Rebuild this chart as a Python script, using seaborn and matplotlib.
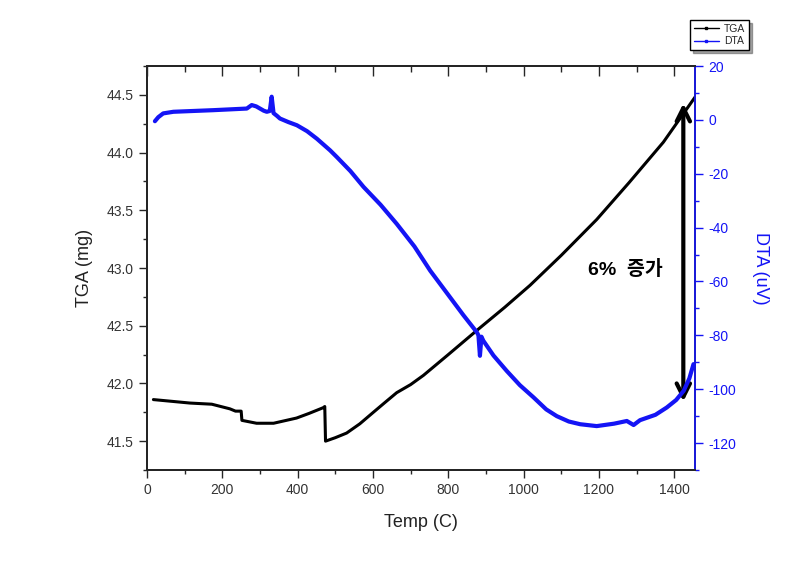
import numpy as np
import pandas as pd
import seaborn as sns
import matplotlib.pyplot as plt
from matplotlib.lines import Line2D
from matplotlib.ticker import MultipleLocator

# TGA curve (left axis, mg)
temp_tga = [17, 114, 172, 220, 235, 250, 252, 291, 336, 397, 430, 468, 472, 474, 500, 530, 565, 601, 630, 663,
            700, 734, 800, 876, 950, 1017, 1100, 1194, 1280, 1371, 1455]
tga = [41.86, 41.83, 41.82, 41.78, 41.76, 41.76, 41.68, 41.655, 41.655, 41.70, 41.74, 41.79, 41.80, 41.50,
       41.53, 41.57, 41.65, 41.75, 41.83, 41.92, 41.99, 42.07, 42.25, 42.46, 42.66, 42.85, 43.11, 43.42,
       43.74, 44.09, 44.48]

# DTA curve (right axis, uV)
temp_dta = [21, 30, 43, 70, 105, 176, 265, 278, 290, 310, 318, 326, 331, 336, 345, 353, 375, 398, 425, 451,
            486, 504, 540, 575, 620, 663, 710, 752, 800, 840, 876, 880, 884, 888, 893, 920, 955, 990, 1026,
            1060, 1088, 1120, 1150, 1194, 1240, 1274, 1292, 1309, 1350, 1380, 1405, 1425, 1440, 1451]
dta = [-0.5, 1.0, 2.4, 3.0, 3.2, 3.6, 4.2, 5.5, 5.0, 3.4, 3.0, 3.3, 8.6, 2.5, 1.5, 0.5, -0.8, -2, -4.2, -7,
       -11.3, -13.8, -19, -24.9, -31.5, -38.6, -47, -56, -65, -72.5, -78.9, -80, -87.6, -80.5, -82, -87.5,
       -93.2, -98.5, -103, -107.5, -110, -112, -113, -113.7, -112.8, -111.8, -113.3, -111.5, -109.5, -106.8,
       -104, -100.6, -96, -90.7]

df_tga = pd.DataFrame({'Temp': temp_tga, 'TGA': tga})
df_dta = pd.DataFrame({'Temp': temp_dta, 'DTA': dta})

blue = '#1414f5'

sns.set_theme(style="ticks")
plt.rcParams['font.family'] = ['Liberation Sans', 'Noto Sans CJK KR', 'DejaVu Sans']
plt.rcParams['axes.unicode_minus'] = False

fig = plt.figure(figsize=(8.07, 5.65), dpi=100)
ax = fig.add_axes([147/807, 1-470/565, (695-147)/807, (470-66)/565])
ax2 = ax.twinx()

sns.lineplot(data=df_tga, x='Temp', y='TGA', ax=ax, color='black', linewidth=2.2)
sns.lineplot(data=df_dta, x='Temp', y='DTA', ax=ax2, color=blue, linewidth=3)

ax.set_xlim(0, 1455)
ax.set_ylim(41.25, 44.75)
ax2.set_ylim(-130, 20)

ax.xaxis.set_major_locator(MultipleLocator(200))
ax.xaxis.set_minor_locator(MultipleLocator(100))
ax.yaxis.set_major_locator(MultipleLocator(0.5))
ax.yaxis.set_minor_locator(MultipleLocator(0.25))
ax2.yaxis.set_major_locator(MultipleLocator(20))
ax2.yaxis.set_minor_locator(MultipleLocator(10))

ax.tick_params(axis='both', which='major', direction='out', length=6, width=1, labelsize=10, labelcolor='#333333')
ax.tick_params(axis='both', which='minor', direction='out', length=3, width=1)
ax.tick_params(axis='x', which='both', top=False)
ax2.tick_params(axis='y', which='major', direction='out', length=6, width=1, colors=blue, labelsize=10)
ax2.tick_params(axis='y', which='minor', direction='out', length=3, width=1, colors=blue)

# top axis: inward ticks, no labels
top = ax.twiny()
top.set_xlim(ax.get_xlim())
top.xaxis.set_major_locator(MultipleLocator(200))
top.xaxis.set_minor_locator(MultipleLocator(100))
top.tick_params(axis='x', which='major', direction='in', length=7, width=1, labeltop=False)
top.tick_params(axis='x', which='minor', direction='in', length=4, width=1)
top.tick_params(axis='y', left=False, right=False, labelleft=False, labelright=False)

for s in ['left', 'bottom', 'top']:
    ax.spines[s].set_color('black')
ax2.spines['right'].set_color(blue)
ax2.spines['right'].set_linewidth(1.2)
top.spines['right'].set_visible(False)

ax.set_xlabel('Temp (C)', fontsize=13, color='#222222', labelpad=12)
ax.set_ylabel('TGA (mg)', fontsize=13, color='#222222', labelpad=10)
ax2.set_ylabel('DTA (uV)', fontsize=13, color=blue, rotation=270, labelpad=24)

# 6% increase arrow and note
ax.annotate('', xy=(1424, 44.45), xytext=(1424, 41.82),
            arrowprops=dict(arrowstyle='<->', lw=3, color='black', mutation_scale=24))
ax.text(1171, 42.99, '6%  증가', fontsize=14, fontweight='bold', va='center', color='black')

handles = [Line2D([], [], color='black', lw=1, marker='s', markersize=2),
           Line2D([], [], color=blue, lw=1, marker='s', markersize=2)]
leg = fig.legend(handles, ['TGA', 'DTA'], loc='upper left', bbox_to_anchor=(685/807, 1-15/565),
                 fontsize=7.5, frameon=True, fancybox=False, shadow=True, edgecolor='black',
                 handlelength=2.4, borderpad=0.35, labelspacing=0.25, handletextpad=0.5)
leg.get_frame().set_linewidth(1)

fig.savefig('out.png', dpi=100)
